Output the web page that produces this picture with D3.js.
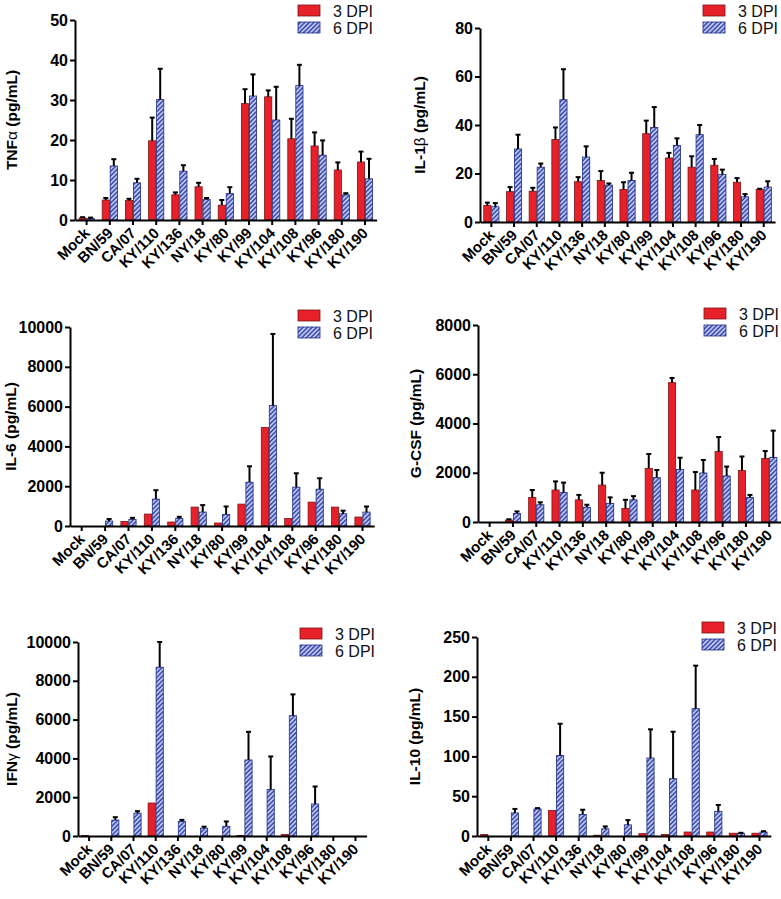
<!DOCTYPE html>
<html><head><meta charset="utf-8">
<script src="https://cdn.jsdelivr.net/npm/d3@7"></script>
<style>body{margin:0;background:#fff} svg{display:block}</style>
</head><body>
<svg id="c" width="781" height="899"></svg>
<script>
const categories = ["Mock","BN/59","CA/07","KY/110","KY/136","NY/18","KY/80","KY/99","KY/104","KY/108","KY/96","KY/180","KY/190"];
const seriesNames = ["3 DPI","6 DPI"];

const tnf3    = [0.5,5.0,4.9,19.8,6.3,8.3,3.7,29.1,30.8,20.3,18.5,12.5,14.5];
const tnf3Err = [0.2,0.5,0.4,5.8,0.6,1.0,1.3,3.6,1.6,5.0,3.4,1.9,2.6];
const tnf6    = [0.4,13.5,9.3,30.1,12.2,5.1,6.6,31.0,25.0,33.6,16.2,6.3,10.3];
const tnf6Err = [0.2,1.7,1.0,7.7,1.5,0.4,1.6,5.4,8.3,5.2,3.7,0.4,5.0];
const tnfTicks = [0,10,20,30,40,50];

const il1b3    = [6.8,12.5,12.7,34.0,16.6,17.1,13.4,36.4,26.4,22.6,23.4,16.4,13.4];
const il1b3Err = [1.2,1.9,1.4,5.0,1.9,3.9,3.0,5.4,2.1,4.5,2.6,1.7,0.3];
const il1b6    = [6.3,30.1,22.6,50.4,26.8,15.2,17.1,39.0,31.6,36.0,19.6,10.4,14.4];
const il1b6Err = [1.5,5.9,1.5,12.6,4.4,0.7,3.2,8.4,2.9,4.0,2.0,1.1,2.4];
const il1bTicks = [0,20,40,60,80];

const il6_3    = [0,0,230,600,200,950,150,1100,4950,380,1200,950,450];
const il6_3Err = [0,0,0,0,0,0,0,0,0,0,0,0,0];
const il6_6    = [0,250,330,1350,380,700,580,2200,6050,1950,1850,620,700];
const il6_6Err = [0,100,80,450,80,350,400,800,3600,700,550,150,280];
const il6Ticks = [0,2000,4000,6000,8000,10000];

const gcsf3    = [0,80,1000,1300,900,1500,550,2180,5660,1300,2860,2090,2580];
const gcsf3Err = [0,30,300,350,200,500,350,580,190,730,590,570,300];
const gcsf6    = [0,350,700,1200,600,750,900,1800,2130,1990,1870,1000,2620];
const gcsf6Err = [0,80,100,400,100,250,150,310,480,530,380,100,1090];
const gcsfTicks = [0,2000,4000,6000,8000];

const ifng3    = [30,0,0,1700,0,0,0,30,0,80,0,0,0];
const ifng3Err = [0,0,0,0,0,0,0,0,0,0,0,0,0];
const ifng6    = [0,820,1180,8700,750,400,500,3920,2400,6200,1650,0,0];
const ifng6Err = [0,150,100,1300,80,80,250,1450,1700,1100,900,0,0];
const ifngTicks = [0,2000,4000,6000,8000,10000];

const il10_3    = [2,0,0,32,0,1,0,3,2,5,5,3.5,3.5];
const il10_3Err = [0,0,0,0,0,0,0,0,0,0,0,0,0];
const il10_6    = [0,29,34,101,27,9,14,98,72,160,31,3.5,5];
const il10_6Err = [0,5,1,40,6,3,6,36,59,54,8,0.5,1];
const il10Ticks = [0,50,100,150,200,250];

const panels = [
  {t1:"TNF", t2:"α", v3:tnf3, e3:tnf3Err, v6:tnf6, e6:tnf6Err, ticks:tnfTicks, ax:75, top:20, base:220, step:23.2, titleX:17, legX:298, legY:5},
  {t1:"IL-1", t2:"β", v3:il1b3, e3:il1b3Err, v6:il1b6, e6:il1b6Err, ticks:il1bTicks, ax:480, top:28, base:222, step:22.7, titleX:425, legX:703, legY:5},
  {t1:"IL-6", t2:"", v3:il6_3, e3:il6_3Err, v6:il6_6, e6:il6_6Err, ticks:il6Ticks, ax:70, top:327, base:526, step:23.4, titleX:16, legX:298, legY:310},
  {t1:"G-CSF", t2:"", v3:gcsf3, e3:gcsf3Err, v6:gcsf6, e6:gcsf6Err, ticks:gcsfTicks, ax:478, top:325, base:522, step:23.3, titleX:421, legX:704, legY:308},
  {t1:"IFN", t2:"γ", v3:ifng3, e3:ifng3Err, v6:ifng6, e6:ifng6Err, ticks:ifngTicks, ax:78, top:642, base:836, step:22.2, titleX:17, legX:300, legY:628},
  {t1:"IL-10", t2:"", v3:il10_3, e3:il10_3Err, v6:il10_6, e6:il10_6Err, ticks:il10Ticks, ax:477, top:637, base:836, step:22.6, titleX:420, legX:702, legY:622}
];

const FONT = "'Liberation Sans', Arial, Helvetica, sans-serif";
const RED = "#e8202a", RED_STROKE = "#7a1414";
const BLUE_STROKE = "#1d2a85";

const svg = d3.select("#c");
const defs = svg.append("defs");
const pat = defs.append("pattern").attr("id","hatch").attr("patternUnits","userSpaceOnUse")
  .attr("width",3.2).attr("height",3.2).attr("patternTransform","rotate(45)");
pat.append("rect").attr("width",3.2).attr("height",3.2).attr("fill","#c9d2f6");
pat.append("line").attr("x1",1).attr("y1",0).attr("x2",1).attr("y2",3.2)
  .attr("stroke","#2f3fa8").attr("stroke-width",1.5);

const fills = [RED, "url(#hatch)"];
const strokes = [RED_STROKE, BLUE_STROKE];

panels.forEach(p => {
  const g = svg.append("g");
  const x0 = d3.scaleBand().domain(categories).range([p.ax, p.ax + categories.length * p.step]).padding(0);
  const half = 7.6;
  const x1 = d3.scaleBand().domain(seriesNames).range([p.step/2 - half, p.step/2 + half]).paddingInner(0.1);
  const yMax = p.ticks[p.ticks.length - 1];
  const y = d3.scaleLinear().domain([0, yMax]).range([p.base, p.top]);

  const rows = categories.map((c, i) => ({c, vals:[p.v3[i], p.v6[i]], errs:[p.e3[i], p.e6[i]]}));

  rows.forEach(r => {
    seriesNames.forEach((s, k) => {
      const v = r.vals[k];
      if (v <= 0) return;
      const bx = x0(r.c) + x1(s);
      g.append("rect").attr("x", bx).attr("y", y(v)).attr("width", x1.bandwidth())
        .attr("height", Math.max(0, y(0) - y(v)))
        .attr("fill", fills[k]).attr("stroke", strokes[k]).attr("stroke-width", 0.8);
      const e = r.errs[k];
      if (e > 0) {
        const cx = bx + x1.bandwidth()/2;
        g.append("line").attr("x1",cx).attr("x2",cx).attr("y1",y(v)).attr("y2",y(v+e))
          .attr("stroke","#000").attr("stroke-width",2);
        g.append("line").attr("x1",cx-2.5).attr("x2",cx+2.5).attr("y1",y(v+e)).attr("y2",y(v+e))
          .attr("stroke","#000").attr("stroke-width",2);
      }
    });
  });

  const ya = g.append("g").attr("transform",`translate(${p.ax},0)`)
    .call(d3.axisLeft(y).tickValues(p.ticks).tickFormat(d3.format("d")).tickSize(5).tickSizeOuter(0).tickPadding(2));
  ya.select(".domain").attr("stroke","#000").attr("stroke-width",2);
  ya.selectAll(".tick line").attr("stroke","#000").attr("stroke-width",2);
  ya.selectAll(".tick text").attr("font-family",FONT).attr("font-size",16).attr("font-weight","bold").attr("fill","#000");

  const xa = g.append("g").attr("transform",`translate(0,${p.base})`)
    .call(d3.axisBottom(x0).tickSize(5).tickSizeOuter(0));
  xa.select(".domain").attr("stroke","#000").attr("stroke-width",2);
  xa.selectAll(".tick line").attr("stroke","#000").attr("stroke-width",2);
  xa.selectAll(".tick text").attr("x",0).attr("y",0).attr("dy",0)
    .attr("transform","translate(4,14) rotate(-45)")
    .style("text-anchor","end")
    .attr("font-family",FONT).attr("font-size",15).attr("font-weight","bold").attr("fill","#000");

  const tt = g.append("text")
    .attr("transform",`translate(${p.titleX},${(p.top + p.base)/2}) rotate(-90)`)
    .attr("text-anchor","middle").attr("font-family",FONT).attr("font-size",15.5).attr("font-weight","bold");
  tt.append("tspan").text(p.t1);
  if (p.t2) tt.append("tspan").attr("font-weight","normal").text(p.t2);
  tt.append("tspan").text(" (pg/mL)");

  seriesNames.forEach((s, k) => {
    const ly = p.legY + k * 17;
    g.append("rect").attr("x", p.legX).attr("y", ly).attr("width", 22).attr("height", 11)
      .attr("fill", fills[k]).attr("stroke", strokes[k]).attr("stroke-width", 0.8);
    g.append("text").attr("x", p.legX + 35).attr("y", ly + 11.5)
      .attr("font-family",FONT).attr("font-size",16).attr("fill","#111").text(s);
  });
});
</script>
</body></html>
